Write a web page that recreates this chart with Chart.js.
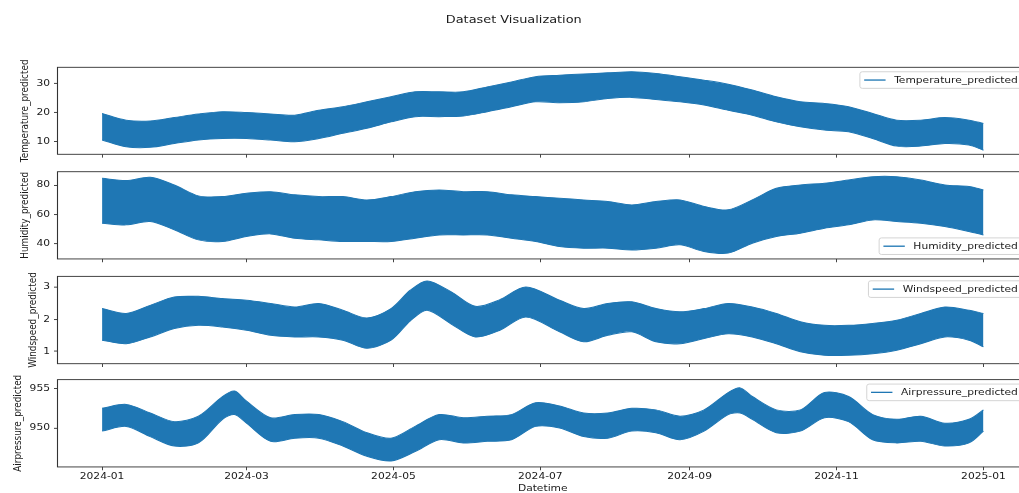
<!DOCTYPE html>
<html>
<head>
<meta charset="utf-8">
<title>Dataset Visualization</title>
<script src="https://cdn.jsdelivr.net/npm/chart.js@4.4.1/dist/chart.umd.min.js"></script>
<style>
  html, body { margin: 0; background: #fff; overflow: hidden; }
  #fig { position: relative; width: 1019px; height: 493px; overflow: hidden; }
  #fig canvas { position: absolute; left: 0; }
</style>
</head>
<body>
<div id="fig">
  <canvas id="temp"></canvas>
  <canvas id="hum"></canvas>
  <canvas id="wind"></canvas>
  <canvas id="air"></canvas>
</div>
<script>
// ---- data: daily band (low / high) sampled through the year ----
const tempDates = ['2024-01-01','2024-01-11','2024-01-21','2024-01-31','2024-02-10','2024-02-20','2024-03-01','2024-03-11','2024-03-21','2024-03-31','2024-04-10','2024-04-20','2024-04-30','2024-05-10','2024-05-20','2024-05-30','2024-06-09','2024-06-19','2024-06-29','2024-07-09','2024-07-19','2024-07-29','2024-08-08','2024-08-18','2024-08-28','2024-09-07','2024-09-17','2024-09-27','2024-10-07','2024-10-17','2024-10-27','2024-11-06','2024-11-16','2024-11-26','2024-12-06','2024-12-16','2024-12-26','2025-01-01'];
const tempHigh = [19.7,17.4,17.1,18.3,19.5,20.3,20.0,19.5,19.1,20.8,22.0,23.7,25.4,27.1,27.1,27.1,28.8,30.5,32.3,32.8,33.2,33.6,34.0,33.4,32.3,31.1,29.7,27.7,25.4,23.7,23.1,22.0,19.7,17.4,17.4,18.3,17.4,16.3];
const tempLow  = [10.6,8.3,8.1,9.4,10.6,11.1,11.1,10.6,10.0,11.1,12.9,14.6,16.8,18.6,18.6,18.8,20.3,22.0,23.7,23.4,23.7,24.8,25.2,24.5,23.7,22.6,20.8,19.1,16.8,15.1,14.0,13.4,11.1,8.5,8.5,9.4,8.9,7.1];

const humDates = tempDates;
const humHigh = [84.7,83.1,85.4,80.1,72.6,72.1,74.4,75.5,73.3,72.1,72.1,69.8,72.1,75.5,76.7,75.5,75.5,73.3,72.1,71.0,69.8,68.7,66.4,68.7,69.8,65.3,63.0,69.8,77.8,80.1,81.3,83.5,85.8,85.8,83.5,80.1,79.0,76.7];
const humLow  = [53.8,52.7,55.0,49.3,42.4,41.3,44.7,46.5,43.5,42.4,41.3,41.3,41.3,43.5,45.8,45.8,45.8,43.5,41.3,37.8,36.7,36.7,35.5,36.7,39.0,34.4,33.3,40.1,44.7,47.0,50.4,52.7,56.1,55.0,53.8,51.5,48.1,45.8];

const windDates = ['2024-01-01','2024-01-11','2024-01-21','2024-01-31','2024-02-10','2024-02-20','2024-03-01','2024-03-11','2024-03-21','2024-03-31','2024-04-10','2024-04-20','2024-04-30','2024-05-08','2024-05-15','2024-05-25','2024-06-04','2024-06-14','2024-06-25','2024-07-09','2024-07-19','2024-07-29','2024-08-08','2024-08-18','2024-08-28','2024-09-07','2024-09-17','2024-09-27','2024-10-07','2024-10-17','2024-10-27','2024-11-06','2024-11-16','2024-11-26','2024-12-06','2024-12-16','2024-12-26','2025-01-01'];
const windHigh = [2.33,2.18,2.43,2.69,2.71,2.64,2.59,2.49,2.38,2.49,2.28,2.04,2.33,2.90,3.19,2.85,2.40,2.60,3.00,2.59,2.33,2.49,2.54,2.33,2.23,2.33,2.49,2.38,2.18,1.92,1.81,1.81,1.87,1.97,2.18,2.38,2.28,2.18];
const windLow  = [1.35,1.24,1.45,1.71,1.81,1.76,1.66,1.50,1.45,1.45,1.35,1.10,1.35,1.95,2.28,1.85,1.45,1.65,2.07,1.61,1.30,1.50,1.61,1.30,1.24,1.40,1.55,1.45,1.24,0.99,0.88,0.88,0.93,1.04,1.24,1.45,1.35,1.14];

const airDates = ['2024-01-01','2024-01-11','2024-01-21','2024-01-31','2024-02-10','2024-02-20','2024-02-25','2024-03-01','2024-03-11','2024-03-21','2024-03-31','2024-04-10','2024-04-20','2024-04-30','2024-05-10','2024-05-20','2024-05-30','2024-06-09','2024-06-19','2024-06-29','2024-07-09','2024-07-19','2024-07-29','2024-08-08','2024-08-18','2024-08-28','2024-09-07','2024-09-17','2024-09-22','2024-09-27','2024-10-07','2024-10-17','2024-10-27','2024-11-06','2024-11-16','2024-11-26','2024-12-06','2024-12-16','2024-12-26','2025-01-01'];
const airHigh = [952.5,953.0,951.9,950.8,951.5,954.0,954.7,953.4,951.3,951.7,951.7,950.8,949.4,948.7,950.2,951.7,951.3,951.5,951.7,953.2,952.8,951.9,951.9,952.5,952.3,951.5,952.3,954.5,955.1,954.0,952.3,952.3,954.5,954.0,951.7,951.1,951.5,950.6,951.1,952.3];
const airLow  = [949.6,950.2,948.9,947.7,948.1,951.1,951.7,950.6,948.3,948.7,948.7,947.7,946.4,945.8,947.0,948.5,948.1,948.3,948.5,950.2,950.0,948.9,948.7,949.6,949.4,948.5,949.6,951.7,951.9,951.1,949.4,949.6,951.3,950.8,948.5,948.1,948.3,947.7,948.1,949.6];

// ---- ticks ----
const xTickDates  = ['2024-01-01','2024-03-01','2024-05-01','2024-07-01','2024-09-01','2024-11-01','2025-01-01'];
const xTickLabels = ['2024-01','2024-03','2024-05','2024-07','2024-09','2024-11','2025-01'];
const tempTicks = [10, 20, 30];
const humTicks  = [40, 60, 80];
const windTicks = [1, 2, 3];
const airTicks  = [950, 955];

const BLUE = '#1f77b4';
const INK = '#1a1a1a';
const FS = 10.7;
const SY = 0.83;               // figure is drawn squashed vertically
const CW = 1054;               // canvas width (figure runs past the window on the right)
const X_MIN = -18.3, X_MAX = 384.3;

Chart.defaults.font.family = "'DejaVu Sans', sans-serif";
Chart.defaults.font.size = FS;
Chart.defaults.color = INK;

const day0 = Date.parse('2024-01-01');
const dayOf = s => (Date.parse(s) - day0) / 864e5;
const points = (dates, vals) => vals.map((v, i) => ({ x: dayOf(dates[i]), y: v }));

const panels = [
  { id: 'temp', label: 'Temperature_predicted', dates: tempDates, hi: tempHigh, lo: tempLow, range: [5.7, 35.5], ticks: tempTicks, legend: 'upper' },
  { id: 'hum',  label: 'Humidity_predicted',    dates: humDates,  hi: humHigh,  lo: humLow,  range: [29.3, 89.2], ticks: humTicks,  legend: 'lower' },
  { id: 'wind', label: 'Windspeed_predicted',   dates: windDates, hi: windHigh, lo: windLow, range: [0.62, 3.33], ticks: windTicks, legend: 'upper' },
  { id: 'air',  label: 'Airpressure_predicted', dates: airDates,  hi: airHigh,  lo: airLow,  range: [945.04, 956.15], ticks: airTicks, legend: 'upper' }
];

// plot box top/bottom (unsquashed px), y-label centre x, x-axis block height
const boxes = [
  { top: 81.1,  bottom: 185.9, labelX: 25,   xH: 4 },
  { top: 206.9, bottom: 312.0, labelX: 25.5, xH: 4 },
  { top: 332.5, bottom: 437.7, labelX: 33.5, xH: 4 },
  { top: 457.8, bottom: 563.0, labelX: 18,   xH: 34.6 }
];

// draw everything through a vertical squash
const squash = {
  id: 'squash',
  beforeDraw(chart) { chart.ctx.save(); chart.ctx.setTransform(1, 0, 0, SY, 0, 0); },
  afterDraw(chart) { chart.ctx.restore(); }
};

// spines + legend box in the upper/lower right corner
function makeFrame(label, where) {
  return {
    id: 'frame',
    afterDatasetsDraw(chart) {
      const { ctx, chartArea: a } = chart;
      ctx.save();
      ctx.strokeStyle = '#333';
      ctx.lineWidth = 1.1;
      ctx.strokeRect(Math.round(a.left) - 0.5, a.top, a.right - a.left, a.bottom - a.top);

      ctx.font = `${FS}px 'DejaVu Sans'`;
      const w = ctx.measureText(label).width;
      const textEnd = a.right - 0.9 * FS;
      const textStart = textEnd - w;
      const lineEnd = textStart - 0.8 * FS;
      const lineStart = lineEnd - 2 * FS;
      const bx = lineStart - 0.4 * FS;
      const bw = a.right - 0.5 * FS - bx;
      const bh = 20;
      const by = where === 'upper' ? a.top + 0.5 * FS : a.bottom - 0.5 * FS - bh;
      const cy = by + bh / 2;

      ctx.beginPath();
      ctx.roundRect(bx, by, bw, bh, 2.5);
      ctx.fillStyle = 'rgba(255,255,255,0.8)';
      ctx.fill();
      ctx.strokeStyle = '#d0d0d0';
      ctx.lineWidth = 1;
      ctx.stroke();

      ctx.beginPath();
      ctx.moveTo(lineStart, cy);
      ctx.lineTo(lineEnd, cy);
      ctx.strokeStyle = BLUE;
      ctx.lineWidth = 1.6;
      ctx.stroke();

      ctx.fillStyle = INK;
      ctx.textAlign = 'left';
      ctx.textBaseline = 'middle';
      ctx.fillText(label, textStart, cy + 0.5);
      ctx.restore();
    }
  };
}

panels.forEach((p, i) => {
  const g = boxes[i];
  const last = i === panels.length - 1;
  const canvas = document.getElementById(p.id);
  const ct = i === 0 ? 0 : Math.floor(g.top) - 12;
  const padTop = i === 0 ? 0 : g.top - ct;
  const H = Math.ceil(g.bottom - ct + g.xH + 8);
  const padBottom = H - (g.bottom - ct) - g.xH;
  canvas.width = CW;
  canvas.height = H;
  canvas.style.top = (ct * SY) + 'px';

  new Chart(canvas, {
    type: 'line',
    data: {
      datasets: [
        { label: p.label, data: points(p.dates, p.hi), borderColor: BLUE, backgroundColor: BLUE,
          borderWidth: 1.2, pointRadius: 0, tension: 0.3, fill: '+1' },
        { label: p.label + ' low', data: points(p.dates, p.lo), borderColor: BLUE, backgroundColor: BLUE,
          borderWidth: 1.2, pointRadius: 0, tension: 0.3, fill: false }
      ]
    },
    options: {
      responsive: false,
      animation: false,
      devicePixelRatio: 1,
      layout: { padding: { top: padTop, bottom: padBottom, left: 0, right: CW - 1027.5 } },
      plugins: {
        legend: { display: false },
        tooltip: { enabled: false },
        title: i === 0 ? {
          display: true,
          text: 'Dataset Visualization',
          color: INK,
          font: { size: 12.9, weight: 'normal' },
          padding: { top: 16.4, bottom: g.top - 16.4 - 12.9 * 1.2 }
        } : { display: false }
      },
      scales: {
        x: {
          type: 'linear',
          min: X_MIN,
          max: X_MAX,
          afterFit: s => { s.height = g.xH; },
          afterBuildTicks: s => { s.ticks = xTickDates.map(d => ({ value: dayOf(d) })); },
          ticks: { display: last, padding: 1, maxRotation: 0, autoSkip: false,
                   callback: (v, idx) => xTickLabels[idx] },
          grid: { display: true, drawOnChartArea: false, drawTicks: true, tickLength: 4, color: '#333' },
          border: { display: false },
          title: { display: last, text: 'Datetime', padding: { top: 0, bottom: 2 }, font: { size: FS } }
        },
        y: {
          min: p.range[0],
          max: p.range[1],
          afterFit: s => { s.width = 58; },
          afterBuildTicks: s => { s.ticks = p.ticks.map(v => ({ value: v })); },
          ticks: { padding: 4, callback: v => v },
          grid: { display: true, drawOnChartArea: false, drawTicks: true, tickLength: 4, color: '#333' },
          border: { display: false },
          title: { display: true, text: p.label, padding: { top: g.labelX - FS * 0.6, bottom: 0 }, font: { size: FS } }
        }
      }
    },
    plugins: [squash, makeFrame(p.label, p.legend)]
  });
});
</script>
</body>
</html>
